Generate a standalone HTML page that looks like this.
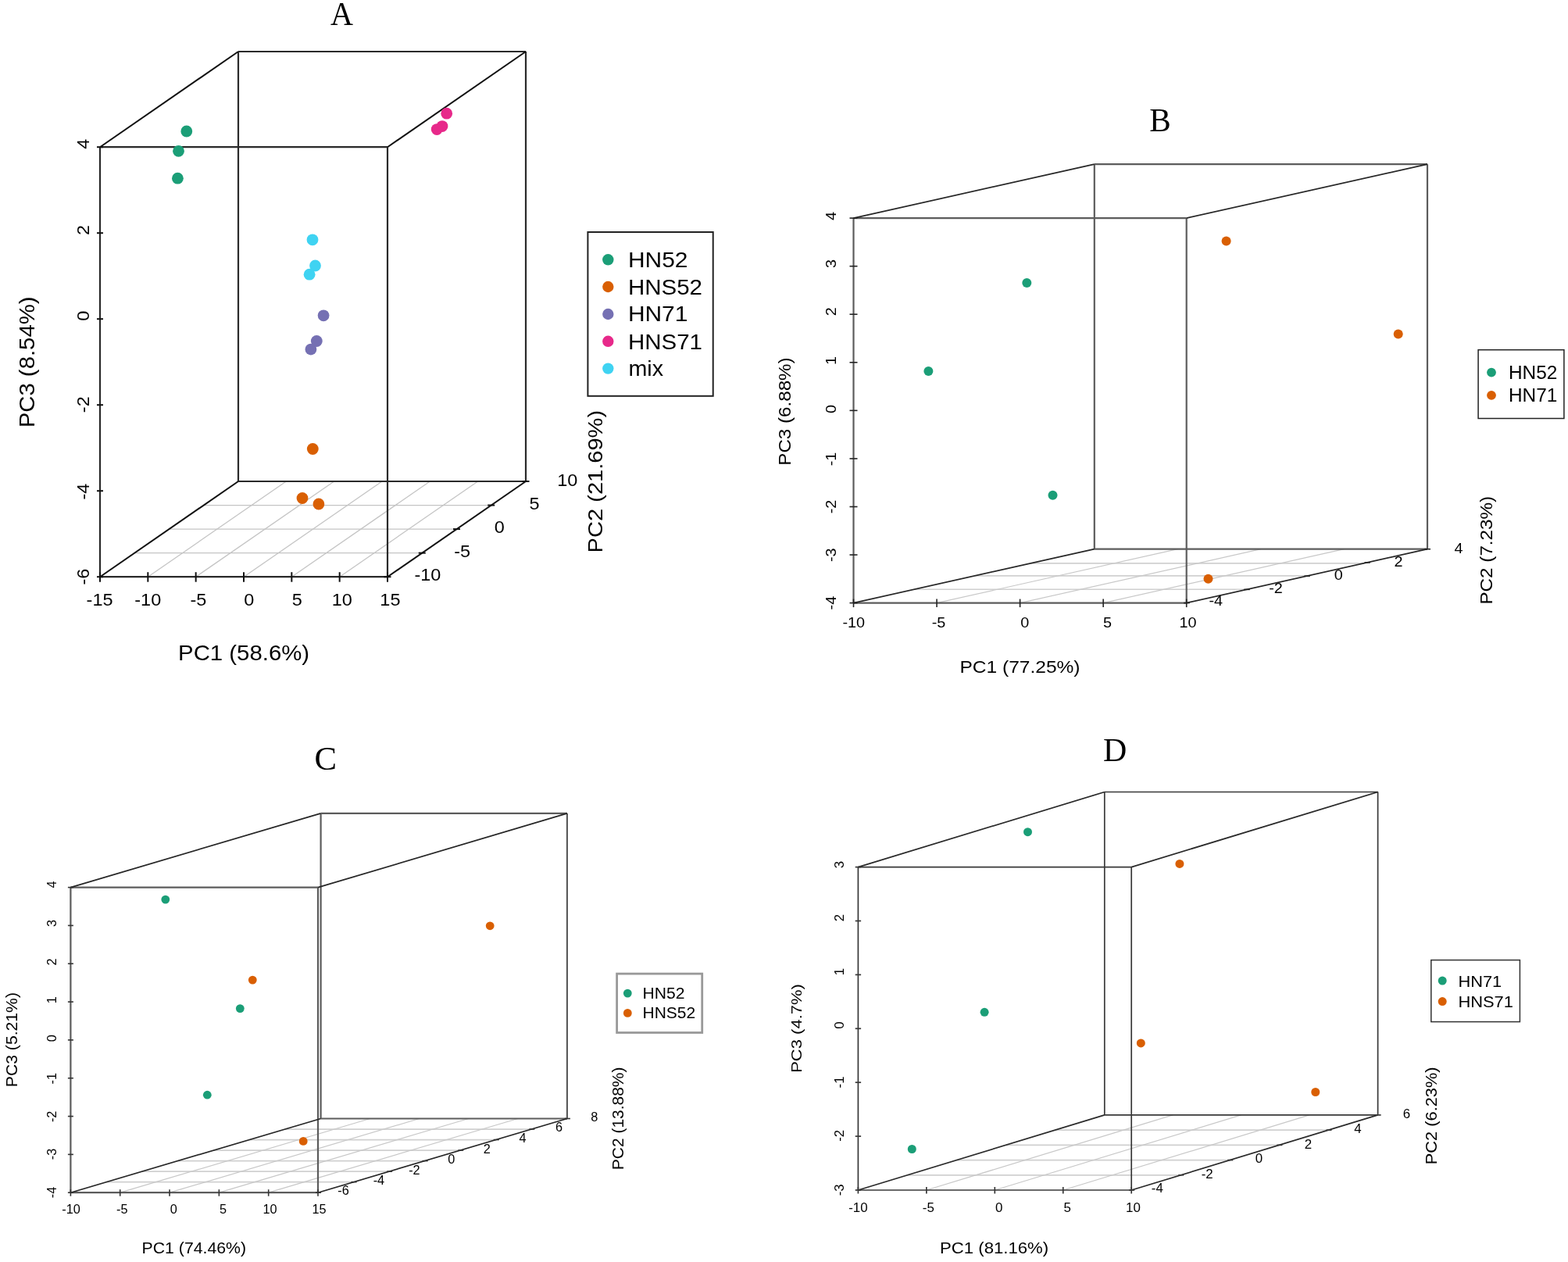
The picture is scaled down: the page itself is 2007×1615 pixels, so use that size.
<!DOCTYPE html>
<html><head><meta charset="utf-8"><title>PCA 3D plots</title>
<style>html,body{margin:0;padding:0;background:#fff;}svg{display:block;}</style>
</head><body>
<svg width="2007" height="1615" viewBox="0 0 2007 1615">
<rect width="2007" height="1615" fill="#fff"/>
<line x1="172.25" y1="707.65" x2="540.25" y2="707.65" stroke="#c4c4c4" stroke-width="1.3"/>
<line x1="216.5" y1="677.1" x2="584.5" y2="677.1" stroke="#c4c4c4" stroke-width="1.3"/>
<line x1="260.75" y1="646.55" x2="628.75" y2="646.55" stroke="#c4c4c4" stroke-width="1.3"/>
<line x1="189.33" y1="738.2" x2="366.33" y2="616" stroke="#c4c4c4" stroke-width="1.3"/>
<line x1="250.67" y1="738.2" x2="427.67" y2="616" stroke="#c4c4c4" stroke-width="1.3"/>
<line x1="312" y1="738.2" x2="489" y2="616" stroke="#c4c4c4" stroke-width="1.3"/>
<line x1="373.33" y1="738.2" x2="550.33" y2="616" stroke="#c4c4c4" stroke-width="1.3"/>
<line x1="434.67" y1="738.2" x2="611.67" y2="616" stroke="#c4c4c4" stroke-width="1.3"/>
<line x1="305" y1="616" x2="673" y2="616" stroke="#2a2a2a" stroke-width="2.2"/>
<line x1="305" y1="66" x2="673" y2="66" stroke="#2a2a2a" stroke-width="2.2"/>
<line x1="305" y1="616" x2="305" y2="66" stroke="#2a2a2a" stroke-width="2.2"/>
<line x1="673" y1="616" x2="673" y2="66" stroke="#2a2a2a" stroke-width="2.2"/>
<line x1="128" y1="738.2" x2="496" y2="738.2" stroke="#2a2a2a" stroke-width="2.2"/>
<line x1="128" y1="188.2" x2="496" y2="188.2" stroke="#2a2a2a" stroke-width="2.2"/>
<line x1="128" y1="738.2" x2="128" y2="188.2" stroke="#2a2a2a" stroke-width="2.2"/>
<line x1="496" y1="738.2" x2="496" y2="188.2" stroke="#2a2a2a" stroke-width="2.2"/>
<line x1="128" y1="738.2" x2="305" y2="616" stroke="#111" stroke-width="2"/>
<line x1="496" y1="738.2" x2="673" y2="616" stroke="#111" stroke-width="2"/>
<line x1="128" y1="188.2" x2="305" y2="66" stroke="#111" stroke-width="2"/>
<line x1="496" y1="188.2" x2="673" y2="66" stroke="#111" stroke-width="2"/>
<line x1="128" y1="732.2" x2="128" y2="744.7" stroke="#111" stroke-width="2"/>
<line x1="189.33" y1="732.2" x2="189.33" y2="744.7" stroke="#111" stroke-width="2"/>
<line x1="250.67" y1="732.2" x2="250.67" y2="744.7" stroke="#111" stroke-width="2"/>
<line x1="312" y1="732.2" x2="312" y2="744.7" stroke="#111" stroke-width="2"/>
<line x1="373.33" y1="732.2" x2="373.33" y2="744.7" stroke="#111" stroke-width="2"/>
<line x1="434.67" y1="732.2" x2="434.67" y2="744.7" stroke="#111" stroke-width="2"/>
<line x1="496" y1="732.2" x2="496" y2="744.7" stroke="#111" stroke-width="2"/>
<line x1="124" y1="738.2" x2="132" y2="738.2" stroke="#111" stroke-width="2"/>
<line x1="124" y1="628.2" x2="132" y2="628.2" stroke="#111" stroke-width="2"/>
<line x1="124" y1="518.2" x2="132" y2="518.2" stroke="#111" stroke-width="2"/>
<line x1="124" y1="408.2" x2="132" y2="408.2" stroke="#111" stroke-width="2"/>
<line x1="124" y1="298.2" x2="132" y2="298.2" stroke="#111" stroke-width="2"/>
<line x1="124" y1="188.2" x2="132" y2="188.2" stroke="#111" stroke-width="2"/>
<line x1="491.5" y1="738.2" x2="500.5" y2="738.2" stroke="#111" stroke-width="2"/>
<line x1="535.75" y1="707.65" x2="544.75" y2="707.65" stroke="#111" stroke-width="2"/>
<line x1="580" y1="677.1" x2="589" y2="677.1" stroke="#111" stroke-width="2"/>
<line x1="624.25" y1="646.55" x2="633.25" y2="646.55" stroke="#111" stroke-width="2"/>
<line x1="668.5" y1="616" x2="677.5" y2="616" stroke="#111" stroke-width="2"/>
<text x="423.01" y="32.2" font-family="Liberation Serif, serif" font-size="42.27" textLength="28.99" lengthAdjust="spacingAndGlyphs" fill="#000">A</text>
<text x="110.6" y="775.2" font-family="Liberation Sans, sans-serif" font-size="22.8" textLength="33.94" lengthAdjust="spacingAndGlyphs" fill="#000">-15</text>
<text x="172.27" y="775.2" font-family="Liberation Sans, sans-serif" font-size="22.8" textLength="33.94" lengthAdjust="spacingAndGlyphs" fill="#000">-10</text>
<text x="243.53" y="775.2" font-family="Liberation Sans, sans-serif" font-size="22.8" textLength="20.88" lengthAdjust="spacingAndGlyphs" fill="#000">-5</text>
<text x="312.27" y="775.2" font-family="Liberation Sans, sans-serif" font-size="22.8" textLength="13.06" lengthAdjust="spacingAndGlyphs" fill="#000">0</text>
<text x="373.79" y="775.2" font-family="Liberation Sans, sans-serif" font-size="22.8" textLength="13.06" lengthAdjust="spacingAndGlyphs" fill="#000">5</text>
<text x="424.8" y="775.2" font-family="Liberation Sans, sans-serif" font-size="22.8" textLength="26.12" lengthAdjust="spacingAndGlyphs" fill="#000">10</text>
<text x="486.34" y="775.2" font-family="Liberation Sans, sans-serif" font-size="22.8" textLength="26.12" lengthAdjust="spacingAndGlyphs" fill="#000">15</text>
<text transform="translate(114.2,190.66) rotate(-90)" x="0" y="0" font-family="Liberation Sans, sans-serif" font-size="22.8" textLength="13.06" lengthAdjust="spacingAndGlyphs" fill="#000">4</text>
<text transform="translate(114.2,301.03) rotate(-90)" x="0" y="0" font-family="Liberation Sans, sans-serif" font-size="22.8" textLength="13.06" lengthAdjust="spacingAndGlyphs" fill="#000">2</text>
<text transform="translate(114.2,410.73) rotate(-90)" x="0" y="0" font-family="Liberation Sans, sans-serif" font-size="22.8" textLength="13.06" lengthAdjust="spacingAndGlyphs" fill="#000">0</text>
<text transform="translate(114.2,528.17) rotate(-90)" x="0" y="0" font-family="Liberation Sans, sans-serif" font-size="22.8" textLength="20.88" lengthAdjust="spacingAndGlyphs" fill="#000">-2</text>
<text transform="translate(114.2,639.62) rotate(-90)" x="0" y="0" font-family="Liberation Sans, sans-serif" font-size="22.8" textLength="20.88" lengthAdjust="spacingAndGlyphs" fill="#000">-4</text>
<text transform="translate(114.2,748.45) rotate(-90)" x="0" y="0" font-family="Liberation Sans, sans-serif" font-size="22.8" textLength="20.88" lengthAdjust="spacingAndGlyphs" fill="#000">-6</text>
<text x="530.47" y="742.5" font-family="Liberation Sans, sans-serif" font-size="22.8" textLength="33.94" lengthAdjust="spacingAndGlyphs" fill="#000">-10</text>
<text x="581.23" y="712.6" font-family="Liberation Sans, sans-serif" font-size="22.8" textLength="20.88" lengthAdjust="spacingAndGlyphs" fill="#000">-5</text>
<text x="632.67" y="681.5" font-family="Liberation Sans, sans-serif" font-size="22.8" textLength="13.06" lengthAdjust="spacingAndGlyphs" fill="#000">0</text>
<text x="677.49" y="652.1" font-family="Liberation Sans, sans-serif" font-size="22.8" textLength="13.06" lengthAdjust="spacingAndGlyphs" fill="#000">5</text>
<text x="713.3" y="621.5" font-family="Liberation Sans, sans-serif" font-size="22.8" textLength="26.12" lengthAdjust="spacingAndGlyphs" fill="#000">10</text>
<text x="228.09" y="845" font-family="Liberation Sans, sans-serif" font-size="26.74" textLength="168.03" lengthAdjust="spacingAndGlyphs" fill="#000">PC1 (58.6%)</text>
<text transform="translate(44.4,547.3) rotate(-90)" x="0" y="0" font-family="Liberation Sans, sans-serif" font-size="26.89" textLength="167.82" lengthAdjust="spacingAndGlyphs" fill="#000">PC3 (8.54%)</text>
<text transform="translate(770.7,707.38) rotate(-90)" x="0" y="0" font-family="Liberation Sans, sans-serif" font-size="26.02" textLength="182.49" lengthAdjust="spacingAndGlyphs" fill="#000">PC2 (21.69%)</text>
<circle cx="400.3" cy="574.5" r="7.4" fill="#d95f02"/>
<circle cx="387" cy="637.5" r="7.4" fill="#d95f02"/>
<circle cx="407.9" cy="645" r="7.4" fill="#d95f02"/>
<circle cx="414.1" cy="403.8" r="7.4" fill="#7570b3"/>
<circle cx="405.3" cy="436.5" r="7.4" fill="#7570b3"/>
<circle cx="397.9" cy="447.1" r="7.4" fill="#7570b3"/>
<circle cx="400" cy="306.8" r="7.4" fill="#3fd3f2"/>
<circle cx="403.5" cy="340" r="7.4" fill="#3fd3f2"/>
<circle cx="396.1" cy="351.2" r="7.4" fill="#3fd3f2"/>
<circle cx="238.8" cy="168" r="7.4" fill="#1b9e77"/>
<circle cx="228.5" cy="193.3" r="7.4" fill="#1b9e77"/>
<circle cx="227.4" cy="228.2" r="7.4" fill="#1b9e77"/>
<circle cx="571.7" cy="145.2" r="7.4" fill="#e7298a"/>
<circle cx="566" cy="161.6" r="7.4" fill="#e7298a"/>
<circle cx="559.2" cy="165.6" r="7.4" fill="#e7298a"/>
<rect x="752.4" y="297" width="160.3" height="209.8" fill="none" stroke="#222" stroke-width="2"/>
<circle cx="778.3" cy="332.3" r="7.2" fill="#1b9e77"/>
<text x="803.95" y="342.2" font-family="Liberation Sans, sans-serif" font-size="27.2" textLength="76.46" lengthAdjust="spacingAndGlyphs" fill="#000">HN52</text>
<circle cx="778.3" cy="367" r="7.2" fill="#d95f02"/>
<text x="803.98" y="376.7" font-family="Liberation Sans, sans-serif" font-size="27.2" textLength="95" lengthAdjust="spacingAndGlyphs" fill="#000">HNS52</text>
<circle cx="778.3" cy="402" r="7.2" fill="#7570b3"/>
<text x="803.95" y="411.4" font-family="Liberation Sans, sans-serif" font-size="27.2" textLength="76.41" lengthAdjust="spacingAndGlyphs" fill="#000">HN71</text>
<circle cx="778.3" cy="436.8" r="7.2" fill="#e7298a"/>
<text x="803.98" y="446.7" font-family="Liberation Sans, sans-serif" font-size="27.2" textLength="94.95" lengthAdjust="spacingAndGlyphs" fill="#000">HNS71</text>
<circle cx="778.3" cy="471.6" r="7.2" fill="#3fd3f2"/>
<text x="804.5" y="480.7" font-family="Liberation Sans, sans-serif" font-size="27.2" textLength="44.51" lengthAdjust="spacingAndGlyphs" fill="#000">mix</text>
<line x1="1170.19" y1="754.24" x2="1596.39" y2="754.24" stroke="#d0d0d0" stroke-width="1.7"/>
<line x1="1248.19" y1="736.81" x2="1674.39" y2="736.81" stroke="#d0d0d0" stroke-width="1.7"/>
<line x1="1319.72" y1="720.82" x2="1745.92" y2="720.82" stroke="#d0d0d0" stroke-width="1.7"/>
<line x1="1199.05" y1="771.6" x2="1507.35" y2="702.7" stroke="#c8c8c8" stroke-width="1.2"/>
<line x1="1305.6" y1="771.6" x2="1613.9" y2="702.7" stroke="#c8c8c8" stroke-width="1.2"/>
<line x1="1412.15" y1="771.6" x2="1720.45" y2="702.7" stroke="#c8c8c8" stroke-width="1.2"/>
<line x1="1400.8" y1="702.7" x2="1827" y2="702.7" stroke="#5c5c5c" stroke-width="2.2"/>
<line x1="1400.8" y1="210.2" x2="1827" y2="210.2" stroke="#5c5c5c" stroke-width="2.2"/>
<line x1="1400.8" y1="702.7" x2="1400.8" y2="210.2" stroke="#5c5c5c" stroke-width="2.2"/>
<line x1="1827" y1="702.7" x2="1827" y2="210.2" stroke="#5c5c5c" stroke-width="2.2"/>
<line x1="1092.5" y1="771.6" x2="1518.7" y2="771.6" stroke="#5c5c5c" stroke-width="2.2"/>
<line x1="1092.5" y1="279.1" x2="1518.7" y2="279.1" stroke="#5c5c5c" stroke-width="2.2"/>
<line x1="1092.5" y1="771.6" x2="1092.5" y2="279.1" stroke="#5c5c5c" stroke-width="2.2"/>
<line x1="1518.7" y1="771.6" x2="1518.7" y2="279.1" stroke="#5c5c5c" stroke-width="2.2"/>
<line x1="1092.5" y1="771.6" x2="1400.8" y2="702.7" stroke="#262626" stroke-width="1.7"/>
<line x1="1518.7" y1="771.6" x2="1827" y2="702.7" stroke="#262626" stroke-width="1.7"/>
<line x1="1092.5" y1="279.1" x2="1400.8" y2="210.2" stroke="#262626" stroke-width="1.7"/>
<line x1="1518.7" y1="279.1" x2="1827" y2="210.2" stroke="#262626" stroke-width="1.7"/>
<line x1="1092.5" y1="766.6" x2="1092.5" y2="777.1" stroke="#222" stroke-width="1.6"/>
<line x1="1199.05" y1="766.6" x2="1199.05" y2="777.1" stroke="#222" stroke-width="1.6"/>
<line x1="1305.6" y1="766.6" x2="1305.6" y2="777.1" stroke="#222" stroke-width="1.6"/>
<line x1="1412.15" y1="766.6" x2="1412.15" y2="777.1" stroke="#222" stroke-width="1.6"/>
<line x1="1518.7" y1="766.6" x2="1518.7" y2="777.1" stroke="#222" stroke-width="1.6"/>
<line x1="1087.5" y1="771.6" x2="1097.5" y2="771.6" stroke="#222" stroke-width="1.6"/>
<line x1="1087.5" y1="710.04" x2="1097.5" y2="710.04" stroke="#222" stroke-width="1.6"/>
<line x1="1087.5" y1="648.48" x2="1097.5" y2="648.48" stroke="#222" stroke-width="1.6"/>
<line x1="1087.5" y1="586.91" x2="1097.5" y2="586.91" stroke="#222" stroke-width="1.6"/>
<line x1="1087.5" y1="525.35" x2="1097.5" y2="525.35" stroke="#222" stroke-width="1.6"/>
<line x1="1087.5" y1="463.79" x2="1097.5" y2="463.79" stroke="#222" stroke-width="1.6"/>
<line x1="1087.5" y1="402.23" x2="1097.5" y2="402.23" stroke="#222" stroke-width="1.6"/>
<line x1="1087.5" y1="340.66" x2="1097.5" y2="340.66" stroke="#222" stroke-width="1.6"/>
<line x1="1087.5" y1="279.1" x2="1097.5" y2="279.1" stroke="#222" stroke-width="1.6"/>
<line x1="1515.2" y1="771.6" x2="1522.7" y2="771.6" stroke="#222" stroke-width="1.6"/>
<line x1="1592.28" y1="754.38" x2="1599.78" y2="754.38" stroke="#222" stroke-width="1.6"/>
<line x1="1669.35" y1="737.15" x2="1676.85" y2="737.15" stroke="#222" stroke-width="1.6"/>
<line x1="1746.43" y1="719.93" x2="1753.93" y2="719.93" stroke="#222" stroke-width="1.6"/>
<line x1="1823.5" y1="702.7" x2="1831" y2="702.7" stroke="#222" stroke-width="1.6"/>
<text x="1471.31" y="168.2" font-family="Liberation Serif, serif" font-size="42.14" textLength="27.5" lengthAdjust="spacingAndGlyphs" fill="#000">B</text>
<text x="1078.54" y="802.6" font-family="Liberation Sans, sans-serif" font-size="18.5" textLength="28.61" lengthAdjust="spacingAndGlyphs" fill="#000">-10</text>
<text x="1192.68" y="802.6" font-family="Liberation Sans, sans-serif" font-size="18.5" textLength="17.6" lengthAdjust="spacingAndGlyphs" fill="#000">-5</text>
<text x="1306.3" y="802.6" font-family="Liberation Sans, sans-serif" font-size="18.5" textLength="11.01" lengthAdjust="spacingAndGlyphs" fill="#000">0</text>
<text x="1412.01" y="802.6" font-family="Liberation Sans, sans-serif" font-size="18.5" textLength="11.01" lengthAdjust="spacingAndGlyphs" fill="#000">5</text>
<text x="1509.62" y="802.6" font-family="Liberation Sans, sans-serif" font-size="18.5" textLength="22.02" lengthAdjust="spacingAndGlyphs" fill="#000">10</text>
<text transform="translate(1070.3,281.94) rotate(-90)" x="0" y="0" font-family="Liberation Sans, sans-serif" font-size="18.5" textLength="11.01" lengthAdjust="spacingAndGlyphs" fill="#000">4</text>
<text transform="translate(1070.3,342.95) rotate(-90)" x="0" y="0" font-family="Liberation Sans, sans-serif" font-size="18.5" textLength="11.01" lengthAdjust="spacingAndGlyphs" fill="#000">3</text>
<text transform="translate(1070.3,404.3) rotate(-90)" x="0" y="0" font-family="Liberation Sans, sans-serif" font-size="18.5" textLength="11.01" lengthAdjust="spacingAndGlyphs" fill="#000">2</text>
<text transform="translate(1070.3,466.98) rotate(-90)" x="0" y="0" font-family="Liberation Sans, sans-serif" font-size="18.5" textLength="11.01" lengthAdjust="spacingAndGlyphs" fill="#000">1</text>
<text transform="translate(1070.3,529) rotate(-90)" x="0" y="0" font-family="Liberation Sans, sans-serif" font-size="18.5" textLength="11.01" lengthAdjust="spacingAndGlyphs" fill="#000">0</text>
<text transform="translate(1070.3,596.26) rotate(-90)" x="0" y="0" font-family="Liberation Sans, sans-serif" font-size="18.5" textLength="17.6" lengthAdjust="spacingAndGlyphs" fill="#000">-1</text>
<text transform="translate(1070.3,657.34) rotate(-90)" x="0" y="0" font-family="Liberation Sans, sans-serif" font-size="18.5" textLength="17.6" lengthAdjust="spacingAndGlyphs" fill="#000">-2</text>
<text transform="translate(1070.3,719.01) rotate(-90)" x="0" y="0" font-family="Liberation Sans, sans-serif" font-size="18.5" textLength="17.6" lengthAdjust="spacingAndGlyphs" fill="#000">-3</text>
<text transform="translate(1070.3,780.45) rotate(-90)" x="0" y="0" font-family="Liberation Sans, sans-serif" font-size="18.5" textLength="17.6" lengthAdjust="spacingAndGlyphs" fill="#000">-4</text>
<text x="1547.45" y="774.7" font-family="Liberation Sans, sans-serif" font-size="18.5" textLength="17.6" lengthAdjust="spacingAndGlyphs" fill="#000">-4</text>
<text x="1624.16" y="759.1" font-family="Liberation Sans, sans-serif" font-size="18.5" textLength="17.6" lengthAdjust="spacingAndGlyphs" fill="#000">-2</text>
<text x="1707.8" y="741.6" font-family="Liberation Sans, sans-serif" font-size="18.5" textLength="11.01" lengthAdjust="spacingAndGlyphs" fill="#000">0</text>
<text x="1784.5" y="724.6" font-family="Liberation Sans, sans-serif" font-size="18.5" textLength="11.01" lengthAdjust="spacingAndGlyphs" fill="#000">2</text>
<text x="1861.56" y="707.8" font-family="Liberation Sans, sans-serif" font-size="18.5" textLength="11.01" lengthAdjust="spacingAndGlyphs" fill="#000">4</text>
<text x="1228.49" y="860.8" font-family="Liberation Sans, sans-serif" font-size="22.24" textLength="154.03" lengthAdjust="spacingAndGlyphs" fill="#000">PC1 (77.25%)</text>
<text transform="translate(1012.4,595.68) rotate(-90)" x="0" y="0" font-family="Liberation Sans, sans-serif" font-size="22.24" textLength="138.28" lengthAdjust="spacingAndGlyphs" fill="#000">PC3 (6.88%)</text>
<text transform="translate(1910,773.59) rotate(-90)" x="0" y="0" font-family="Liberation Sans, sans-serif" font-size="22.24" textLength="138.79" lengthAdjust="spacingAndGlyphs" fill="#000">PC2 (7.23%)</text>
<circle cx="1314.3" cy="362.1" r="6" fill="#1b9e77"/>
<circle cx="1188.4" cy="474.9" r="6" fill="#1b9e77"/>
<circle cx="1347.5" cy="633.7" r="6" fill="#1b9e77"/>
<circle cx="1569.6" cy="308.6" r="6" fill="#d95f02"/>
<circle cx="1789.7" cy="427.6" r="6" fill="#d95f02"/>
<circle cx="1546.5" cy="740.7" r="6" fill="#d95f02"/>
<rect x="1892.1" y="447.7" width="109.8" height="87.8" fill="none" stroke="#222" stroke-width="1.5"/>
<circle cx="1909" cy="476.6" r="5.9" fill="#1b9e77"/>
<text x="1930.9" y="484.5" font-family="Liberation Sans, sans-serif" font-size="23" textLength="62.43" lengthAdjust="spacingAndGlyphs" fill="#000">HN52</text>
<circle cx="1909" cy="505.8" r="5.9" fill="#d95f02"/>
<text x="1930.9" y="513.8" font-family="Liberation Sans, sans-serif" font-size="23" textLength="62.39" lengthAdjust="spacingAndGlyphs" fill="#000">HN71</text>
<line x1="136.14" y1="1512.67" x2="452.56" y2="1512.67" stroke="#d0d0d0" stroke-width="1.7"/>
<line x1="181.89" y1="1499.14" x2="498.11" y2="1499.14" stroke="#d0d0d0" stroke-width="1.7"/>
<line x1="227.63" y1="1485.61" x2="543.67" y2="1485.61" stroke="#d0d0d0" stroke-width="1.7"/>
<line x1="273.37" y1="1472.09" x2="589.23" y2="1472.09" stroke="#d0d0d0" stroke-width="1.7"/>
<line x1="319.11" y1="1458.56" x2="634.79" y2="1458.56" stroke="#d0d0d0" stroke-width="1.7"/>
<line x1="364.86" y1="1445.03" x2="680.34" y2="1445.03" stroke="#d0d0d0" stroke-width="1.7"/>
<line x1="153.72" y1="1526.2" x2="473.66" y2="1431.5" stroke="#c8c8c8" stroke-width="1.2"/>
<line x1="217.04" y1="1526.2" x2="536.72" y2="1431.5" stroke="#c8c8c8" stroke-width="1.2"/>
<line x1="280.36" y1="1526.2" x2="599.78" y2="1431.5" stroke="#c8c8c8" stroke-width="1.2"/>
<line x1="343.68" y1="1526.2" x2="662.84" y2="1431.5" stroke="#c8c8c8" stroke-width="1.2"/>
<line x1="410.6" y1="1431.5" x2="725.9" y2="1431.5" stroke="#5c5c5c" stroke-width="2.2"/>
<line x1="410.6" y1="1040.9" x2="725.9" y2="1040.9" stroke="#5c5c5c" stroke-width="2.2"/>
<line x1="410.6" y1="1431.5" x2="410.6" y2="1040.9" stroke="#5c5c5c" stroke-width="2.2"/>
<line x1="725.9" y1="1431.5" x2="725.9" y2="1040.9" stroke="#5c5c5c" stroke-width="2.2"/>
<line x1="90.4" y1="1526.2" x2="407" y2="1526.2" stroke="#5c5c5c" stroke-width="2.2"/>
<line x1="90.4" y1="1135.6" x2="407" y2="1135.6" stroke="#5c5c5c" stroke-width="2.2"/>
<line x1="90.4" y1="1526.2" x2="90.4" y2="1135.6" stroke="#5c5c5c" stroke-width="2.2"/>
<line x1="407" y1="1526.2" x2="407" y2="1135.6" stroke="#5c5c5c" stroke-width="2.2"/>
<line x1="90.4" y1="1526.2" x2="410.6" y2="1431.5" stroke="#262626" stroke-width="1.7"/>
<line x1="407" y1="1526.2" x2="725.9" y2="1431.5" stroke="#262626" stroke-width="1.7"/>
<line x1="90.4" y1="1135.6" x2="410.6" y2="1040.9" stroke="#262626" stroke-width="1.7"/>
<line x1="407" y1="1135.6" x2="725.9" y2="1040.9" stroke="#262626" stroke-width="1.7"/>
<line x1="90.4" y1="1522.2" x2="90.4" y2="1530.7" stroke="#333" stroke-width="1.6"/>
<line x1="153.72" y1="1522.2" x2="153.72" y2="1530.7" stroke="#333" stroke-width="1.6"/>
<line x1="217.04" y1="1522.2" x2="217.04" y2="1530.7" stroke="#333" stroke-width="1.6"/>
<line x1="280.36" y1="1522.2" x2="280.36" y2="1530.7" stroke="#333" stroke-width="1.6"/>
<line x1="343.68" y1="1522.2" x2="343.68" y2="1530.7" stroke="#333" stroke-width="1.6"/>
<line x1="407" y1="1522.2" x2="407" y2="1530.7" stroke="#333" stroke-width="1.6"/>
<line x1="86.9" y1="1526.2" x2="93.9" y2="1526.2" stroke="#333" stroke-width="1.6"/>
<line x1="86.9" y1="1477.38" x2="93.9" y2="1477.38" stroke="#333" stroke-width="1.6"/>
<line x1="86.9" y1="1428.55" x2="93.9" y2="1428.55" stroke="#333" stroke-width="1.6"/>
<line x1="86.9" y1="1379.72" x2="93.9" y2="1379.72" stroke="#333" stroke-width="1.6"/>
<line x1="86.9" y1="1330.9" x2="93.9" y2="1330.9" stroke="#333" stroke-width="1.6"/>
<line x1="86.9" y1="1282.08" x2="93.9" y2="1282.08" stroke="#333" stroke-width="1.6"/>
<line x1="86.9" y1="1233.25" x2="93.9" y2="1233.25" stroke="#333" stroke-width="1.6"/>
<line x1="86.9" y1="1184.42" x2="93.9" y2="1184.42" stroke="#333" stroke-width="1.6"/>
<line x1="86.9" y1="1135.6" x2="93.9" y2="1135.6" stroke="#333" stroke-width="1.6"/>
<line x1="404" y1="1526.2" x2="411" y2="1526.2" stroke="#333" stroke-width="1.6"/>
<line x1="449.56" y1="1512.67" x2="456.56" y2="1512.67" stroke="#333" stroke-width="1.6"/>
<line x1="495.11" y1="1499.14" x2="502.11" y2="1499.14" stroke="#333" stroke-width="1.6"/>
<line x1="540.67" y1="1485.61" x2="547.67" y2="1485.61" stroke="#333" stroke-width="1.6"/>
<line x1="586.23" y1="1472.09" x2="593.23" y2="1472.09" stroke="#333" stroke-width="1.6"/>
<line x1="631.79" y1="1458.56" x2="638.79" y2="1458.56" stroke="#333" stroke-width="1.6"/>
<line x1="677.34" y1="1445.03" x2="684.34" y2="1445.03" stroke="#333" stroke-width="1.6"/>
<line x1="722.9" y1="1431.5" x2="729.9" y2="1431.5" stroke="#333" stroke-width="1.6"/>
<text x="402.55" y="985.4" font-family="Liberation Serif, serif" font-size="41.67" textLength="28.51" lengthAdjust="spacingAndGlyphs" fill="#000">C</text>
<text x="79.28" y="1553.3" font-family="Liberation Sans, sans-serif" font-size="16.8" textLength="23.55" lengthAdjust="spacingAndGlyphs" fill="#000">-10</text>
<text x="149.04" y="1553.3" font-family="Liberation Sans, sans-serif" font-size="16.8" textLength="14.49" lengthAdjust="spacingAndGlyphs" fill="#000">-5</text>
<text x="217.67" y="1553.3" font-family="Liberation Sans, sans-serif" font-size="16.8" textLength="9.06" lengthAdjust="spacingAndGlyphs" fill="#000">0</text>
<text x="280.98" y="1553.3" font-family="Liberation Sans, sans-serif" font-size="16.8" textLength="9.06" lengthAdjust="spacingAndGlyphs" fill="#000">5</text>
<text x="336.53" y="1553.3" font-family="Liberation Sans, sans-serif" font-size="16.8" textLength="18.13" lengthAdjust="spacingAndGlyphs" fill="#000">10</text>
<text x="399.56" y="1553.3" font-family="Liberation Sans, sans-serif" font-size="16.8" textLength="18.13" lengthAdjust="spacingAndGlyphs" fill="#000">15</text>
<text transform="translate(72.2,1136.58) rotate(-90)" x="0" y="0" font-family="Liberation Sans, sans-serif" font-size="16.8" textLength="9.06" lengthAdjust="spacingAndGlyphs" fill="#000">4</text>
<text transform="translate(72.2,1185.98) rotate(-90)" x="0" y="0" font-family="Liberation Sans, sans-serif" font-size="16.8" textLength="9.06" lengthAdjust="spacingAndGlyphs" fill="#000">3</text>
<text transform="translate(72.2,1235.43) rotate(-90)" x="0" y="0" font-family="Liberation Sans, sans-serif" font-size="16.8" textLength="9.06" lengthAdjust="spacingAndGlyphs" fill="#000">2</text>
<text transform="translate(72.2,1284.15) rotate(-90)" x="0" y="0" font-family="Liberation Sans, sans-serif" font-size="16.8" textLength="9.06" lengthAdjust="spacingAndGlyphs" fill="#000">1</text>
<text transform="translate(72.2,1333.33) rotate(-90)" x="0" y="0" font-family="Liberation Sans, sans-serif" font-size="16.8" textLength="9.06" lengthAdjust="spacingAndGlyphs" fill="#000">0</text>
<text transform="translate(72.2,1387.41) rotate(-90)" x="0" y="0" font-family="Liberation Sans, sans-serif" font-size="16.8" textLength="14.49" lengthAdjust="spacingAndGlyphs" fill="#000">-1</text>
<text transform="translate(72.2,1436.1) rotate(-90)" x="0" y="0" font-family="Liberation Sans, sans-serif" font-size="16.8" textLength="14.49" lengthAdjust="spacingAndGlyphs" fill="#000">-2</text>
<text transform="translate(72.2,1484.15) rotate(-90)" x="0" y="0" font-family="Liberation Sans, sans-serif" font-size="16.8" textLength="14.49" lengthAdjust="spacingAndGlyphs" fill="#000">-3</text>
<text transform="translate(72.2,1533.17) rotate(-90)" x="0" y="0" font-family="Liberation Sans, sans-serif" font-size="16.8" textLength="14.49" lengthAdjust="spacingAndGlyphs" fill="#000">-4</text>
<text x="432.25" y="1529" font-family="Liberation Sans, sans-serif" font-size="16.8" textLength="14.49" lengthAdjust="spacingAndGlyphs" fill="#000">-6</text>
<text x="477.63" y="1516.4" font-family="Liberation Sans, sans-serif" font-size="16.8" textLength="14.49" lengthAdjust="spacingAndGlyphs" fill="#000">-4</text>
<text x="523.2" y="1502.7" font-family="Liberation Sans, sans-serif" font-size="16.8" textLength="14.49" lengthAdjust="spacingAndGlyphs" fill="#000">-2</text>
<text x="573.37" y="1489" font-family="Liberation Sans, sans-serif" font-size="16.8" textLength="9.06" lengthAdjust="spacingAndGlyphs" fill="#000">0</text>
<text x="618.87" y="1475.9" font-family="Liberation Sans, sans-serif" font-size="16.8" textLength="9.06" lengthAdjust="spacingAndGlyphs" fill="#000">2</text>
<text x="664.42" y="1461.6" font-family="Liberation Sans, sans-serif" font-size="16.8" textLength="9.06" lengthAdjust="spacingAndGlyphs" fill="#000">4</text>
<text x="711.01" y="1448.2" font-family="Liberation Sans, sans-serif" font-size="16.8" textLength="9.06" lengthAdjust="spacingAndGlyphs" fill="#000">6</text>
<text x="756.17" y="1435" font-family="Liberation Sans, sans-serif" font-size="16.8" textLength="9.06" lengthAdjust="spacingAndGlyphs" fill="#000">8</text>
<text x="181.56" y="1603.8" font-family="Liberation Sans, sans-serif" font-size="19.48" textLength="133.56" lengthAdjust="spacingAndGlyphs" fill="#000">PC1 (74.46%)</text>
<text transform="translate(21.7,1391.24) rotate(-90)" x="0" y="0" font-family="Liberation Sans, sans-serif" font-size="19.48" textLength="121.25" lengthAdjust="spacingAndGlyphs" fill="#000">PC3 (5.21%)</text>
<text transform="translate(798.2,1497.22) rotate(-90)" x="0" y="0" font-family="Liberation Sans, sans-serif" font-size="19.33" textLength="131.72" lengthAdjust="spacingAndGlyphs" fill="#000">PC2 (13.88%)</text>
<circle cx="211.8" cy="1151.1" r="5.4" fill="#1b9e77"/>
<circle cx="307.3" cy="1290.6" r="5.4" fill="#1b9e77"/>
<circle cx="265.3" cy="1401.2" r="5.4" fill="#1b9e77"/>
<circle cx="323.3" cy="1254.1" r="5.4" fill="#d95f02"/>
<circle cx="627.2" cy="1184.8" r="5.4" fill="#d95f02"/>
<circle cx="388.2" cy="1460.4" r="5.4" fill="#d95f02"/>
<rect x="789.6" y="1246.1" width="109.1" height="75.4" fill="none" stroke="#999" stroke-width="2.8"/>
<circle cx="803.3" cy="1271.1" r="5.4" fill="#1b9e77"/>
<text x="822.57" y="1277.7" font-family="Liberation Sans, sans-serif" font-size="19.5" textLength="53.78" lengthAdjust="spacingAndGlyphs" fill="#000">HN52</text>
<circle cx="803.3" cy="1296.4" r="5.4" fill="#d95f02"/>
<text x="822.58" y="1303.1" font-family="Liberation Sans, sans-serif" font-size="19.5" textLength="67.57" lengthAdjust="spacingAndGlyphs" fill="#000">HNS52</text>
<line x1="1161.48" y1="1503.78" x2="1511.28" y2="1503.78" stroke="#d0d0d0" stroke-width="1.7"/>
<line x1="1224.56" y1="1484.56" x2="1574.36" y2="1484.56" stroke="#d0d0d0" stroke-width="1.7"/>
<line x1="1287.64" y1="1465.34" x2="1637.44" y2="1465.34" stroke="#d0d0d0" stroke-width="1.7"/>
<line x1="1350.72" y1="1446.12" x2="1700.52" y2="1446.12" stroke="#d0d0d0" stroke-width="1.7"/>
<line x1="1185.85" y1="1523" x2="1501.25" y2="1426.9" stroke="#c8c8c8" stroke-width="1.2"/>
<line x1="1273.3" y1="1523" x2="1588.7" y2="1426.9" stroke="#c8c8c8" stroke-width="1.2"/>
<line x1="1360.75" y1="1523" x2="1676.15" y2="1426.9" stroke="#c8c8c8" stroke-width="1.2"/>
<line x1="1413.8" y1="1426.9" x2="1763.6" y2="1426.9" stroke="#383838" stroke-width="1.7"/>
<line x1="1413.8" y1="1013.5" x2="1763.6" y2="1013.5" stroke="#383838" stroke-width="1.7"/>
<line x1="1413.8" y1="1426.9" x2="1413.8" y2="1013.5" stroke="#383838" stroke-width="1.7"/>
<line x1="1763.6" y1="1426.9" x2="1763.6" y2="1013.5" stroke="#383838" stroke-width="1.7"/>
<line x1="1098.4" y1="1523" x2="1448.2" y2="1523" stroke="#383838" stroke-width="1.7"/>
<line x1="1098.4" y1="1109.6" x2="1448.2" y2="1109.6" stroke="#383838" stroke-width="1.7"/>
<line x1="1098.4" y1="1523" x2="1098.4" y2="1109.6" stroke="#383838" stroke-width="1.7"/>
<line x1="1448.2" y1="1523" x2="1448.2" y2="1109.6" stroke="#383838" stroke-width="1.7"/>
<line x1="1098.4" y1="1523" x2="1413.8" y2="1426.9" stroke="#2a2a2a" stroke-width="1.7"/>
<line x1="1448.2" y1="1523" x2="1763.6" y2="1426.9" stroke="#2a2a2a" stroke-width="1.7"/>
<line x1="1098.4" y1="1109.6" x2="1413.8" y2="1013.5" stroke="#2a2a2a" stroke-width="1.7"/>
<line x1="1448.2" y1="1109.6" x2="1763.6" y2="1013.5" stroke="#2a2a2a" stroke-width="1.7"/>
<line x1="1098.4" y1="1519" x2="1098.4" y2="1527.5" stroke="#383838" stroke-width="1.7"/>
<line x1="1185.85" y1="1519" x2="1185.85" y2="1527.5" stroke="#383838" stroke-width="1.7"/>
<line x1="1273.3" y1="1519" x2="1273.3" y2="1527.5" stroke="#383838" stroke-width="1.7"/>
<line x1="1360.75" y1="1519" x2="1360.75" y2="1527.5" stroke="#383838" stroke-width="1.7"/>
<line x1="1448.2" y1="1519" x2="1448.2" y2="1527.5" stroke="#383838" stroke-width="1.7"/>
<line x1="1094.7" y1="1523" x2="1102.1" y2="1523" stroke="#383838" stroke-width="1.7"/>
<line x1="1094.7" y1="1454.1" x2="1102.1" y2="1454.1" stroke="#383838" stroke-width="1.7"/>
<line x1="1094.7" y1="1385.2" x2="1102.1" y2="1385.2" stroke="#383838" stroke-width="1.7"/>
<line x1="1094.7" y1="1316.3" x2="1102.1" y2="1316.3" stroke="#383838" stroke-width="1.7"/>
<line x1="1094.7" y1="1247.4" x2="1102.1" y2="1247.4" stroke="#383838" stroke-width="1.7"/>
<line x1="1094.7" y1="1178.5" x2="1102.1" y2="1178.5" stroke="#383838" stroke-width="1.7"/>
<line x1="1094.7" y1="1109.6" x2="1102.1" y2="1109.6" stroke="#383838" stroke-width="1.7"/>
<line x1="1445.2" y1="1523" x2="1452.2" y2="1523" stroke="#383838" stroke-width="1.7"/>
<line x1="1508.28" y1="1503.78" x2="1515.28" y2="1503.78" stroke="#383838" stroke-width="1.7"/>
<line x1="1571.36" y1="1484.56" x2="1578.36" y2="1484.56" stroke="#383838" stroke-width="1.7"/>
<line x1="1634.44" y1="1465.34" x2="1641.44" y2="1465.34" stroke="#383838" stroke-width="1.7"/>
<line x1="1697.52" y1="1446.12" x2="1704.52" y2="1446.12" stroke="#383838" stroke-width="1.7"/>
<line x1="1760.6" y1="1426.9" x2="1767.6" y2="1426.9" stroke="#383838" stroke-width="1.7"/>
<text x="1412.09" y="974.3" font-family="Liberation Serif, serif" font-size="41.98" textLength="30.29" lengthAdjust="spacingAndGlyphs" fill="#000">D</text>
<text x="1086.16" y="1551.2" font-family="Liberation Sans, sans-serif" font-size="17.4" textLength="24.39" lengthAdjust="spacingAndGlyphs" fill="#000">-10</text>
<text x="1180.78" y="1551.2" font-family="Liberation Sans, sans-serif" font-size="17.4" textLength="15.01" lengthAdjust="spacingAndGlyphs" fill="#000">-5</text>
<text x="1273.91" y="1551.2" font-family="Liberation Sans, sans-serif" font-size="17.4" textLength="9.39" lengthAdjust="spacingAndGlyphs" fill="#000">0</text>
<text x="1361.52" y="1551.2" font-family="Liberation Sans, sans-serif" font-size="17.4" textLength="9.39" lengthAdjust="spacingAndGlyphs" fill="#000">5</text>
<text x="1441" y="1551.2" font-family="Liberation Sans, sans-serif" font-size="17.4" textLength="18.77" lengthAdjust="spacingAndGlyphs" fill="#000">10</text>
<text transform="translate(1079.6,1111.34) rotate(-90)" x="0" y="0" font-family="Liberation Sans, sans-serif" font-size="17.4" textLength="9.39" lengthAdjust="spacingAndGlyphs" fill="#000">3</text>
<text transform="translate(1079.6,1179.19) rotate(-90)" x="0" y="0" font-family="Liberation Sans, sans-serif" font-size="17.4" textLength="9.39" lengthAdjust="spacingAndGlyphs" fill="#000">2</text>
<text transform="translate(1079.6,1248.22) rotate(-90)" x="0" y="0" font-family="Liberation Sans, sans-serif" font-size="17.4" textLength="9.39" lengthAdjust="spacingAndGlyphs" fill="#000">1</text>
<text transform="translate(1079.6,1316.69) rotate(-90)" x="0" y="0" font-family="Liberation Sans, sans-serif" font-size="17.4" textLength="9.39" lengthAdjust="spacingAndGlyphs" fill="#000">0</text>
<text transform="translate(1079.6,1392.47) rotate(-90)" x="0" y="0" font-family="Liberation Sans, sans-serif" font-size="17.4" textLength="15.01" lengthAdjust="spacingAndGlyphs" fill="#000">-1</text>
<text transform="translate(1079.6,1460.85) rotate(-90)" x="0" y="0" font-family="Liberation Sans, sans-serif" font-size="17.4" textLength="15.01" lengthAdjust="spacingAndGlyphs" fill="#000">-2</text>
<text transform="translate(1079.6,1530.31) rotate(-90)" x="0" y="0" font-family="Liberation Sans, sans-serif" font-size="17.4" textLength="15.01" lengthAdjust="spacingAndGlyphs" fill="#000">-3</text>
<text x="1473.87" y="1526.2" font-family="Liberation Sans, sans-serif" font-size="17.4" textLength="15.01" lengthAdjust="spacingAndGlyphs" fill="#000">-4</text>
<text x="1537.65" y="1508.1" font-family="Liberation Sans, sans-serif" font-size="17.4" textLength="15.01" lengthAdjust="spacingAndGlyphs" fill="#000">-2</text>
<text x="1606.81" y="1488.4" font-family="Liberation Sans, sans-serif" font-size="17.4" textLength="9.39" lengthAdjust="spacingAndGlyphs" fill="#000">0</text>
<text x="1669.81" y="1469.7" font-family="Liberation Sans, sans-serif" font-size="17.4" textLength="9.39" lengthAdjust="spacingAndGlyphs" fill="#000">2</text>
<text x="1733.26" y="1449.9" font-family="Liberation Sans, sans-serif" font-size="17.4" textLength="9.39" lengthAdjust="spacingAndGlyphs" fill="#000">4</text>
<text x="1795.65" y="1430.6" font-family="Liberation Sans, sans-serif" font-size="17.4" textLength="9.39" lengthAdjust="spacingAndGlyphs" fill="#000">6</text>
<text x="1203.08" y="1603.8" font-family="Liberation Sans, sans-serif" font-size="20.06" textLength="138.99" lengthAdjust="spacingAndGlyphs" fill="#000">PC1 (81.16%)</text>
<text transform="translate(1025.5,1372.8) rotate(-90)" x="0" y="0" font-family="Liberation Sans, sans-serif" font-size="18.75" textLength="113.67" lengthAdjust="spacingAndGlyphs" fill="#000">PC3 (4.7%)</text>
<text transform="translate(1839.2,1490.19) rotate(-90)" x="0" y="0" font-family="Liberation Sans, sans-serif" font-size="19.48" textLength="124.74" lengthAdjust="spacingAndGlyphs" fill="#000">PC2 (6.23%)</text>
<circle cx="1315.5" cy="1064.7" r="5.5" fill="#1b9e77"/>
<circle cx="1260.1" cy="1295.3" r="5.5" fill="#1b9e77"/>
<circle cx="1167.3" cy="1470.5" r="5.5" fill="#1b9e77"/>
<circle cx="1509.9" cy="1105.4" r="5.5" fill="#d95f02"/>
<circle cx="1460.3" cy="1334.9" r="5.5" fill="#d95f02"/>
<circle cx="1683.8" cy="1397.5" r="5.5" fill="#d95f02"/>
<rect x="1831.8" y="1228.6" width="113.6" height="79" fill="none" stroke="#333" stroke-width="1.5"/>
<circle cx="1846.2" cy="1255.1" r="5.5" fill="#1b9e77"/>
<text x="1866.41" y="1262.5" font-family="Liberation Sans, sans-serif" font-size="20.5" textLength="55.75" lengthAdjust="spacingAndGlyphs" fill="#000">HN71</text>
<circle cx="1846.2" cy="1281.6" r="5.5" fill="#d95f02"/>
<text x="1866.4" y="1288.6" font-family="Liberation Sans, sans-serif" font-size="20.5" textLength="70.56" lengthAdjust="spacingAndGlyphs" fill="#000">HNS71</text>
</svg>
</body></html>
